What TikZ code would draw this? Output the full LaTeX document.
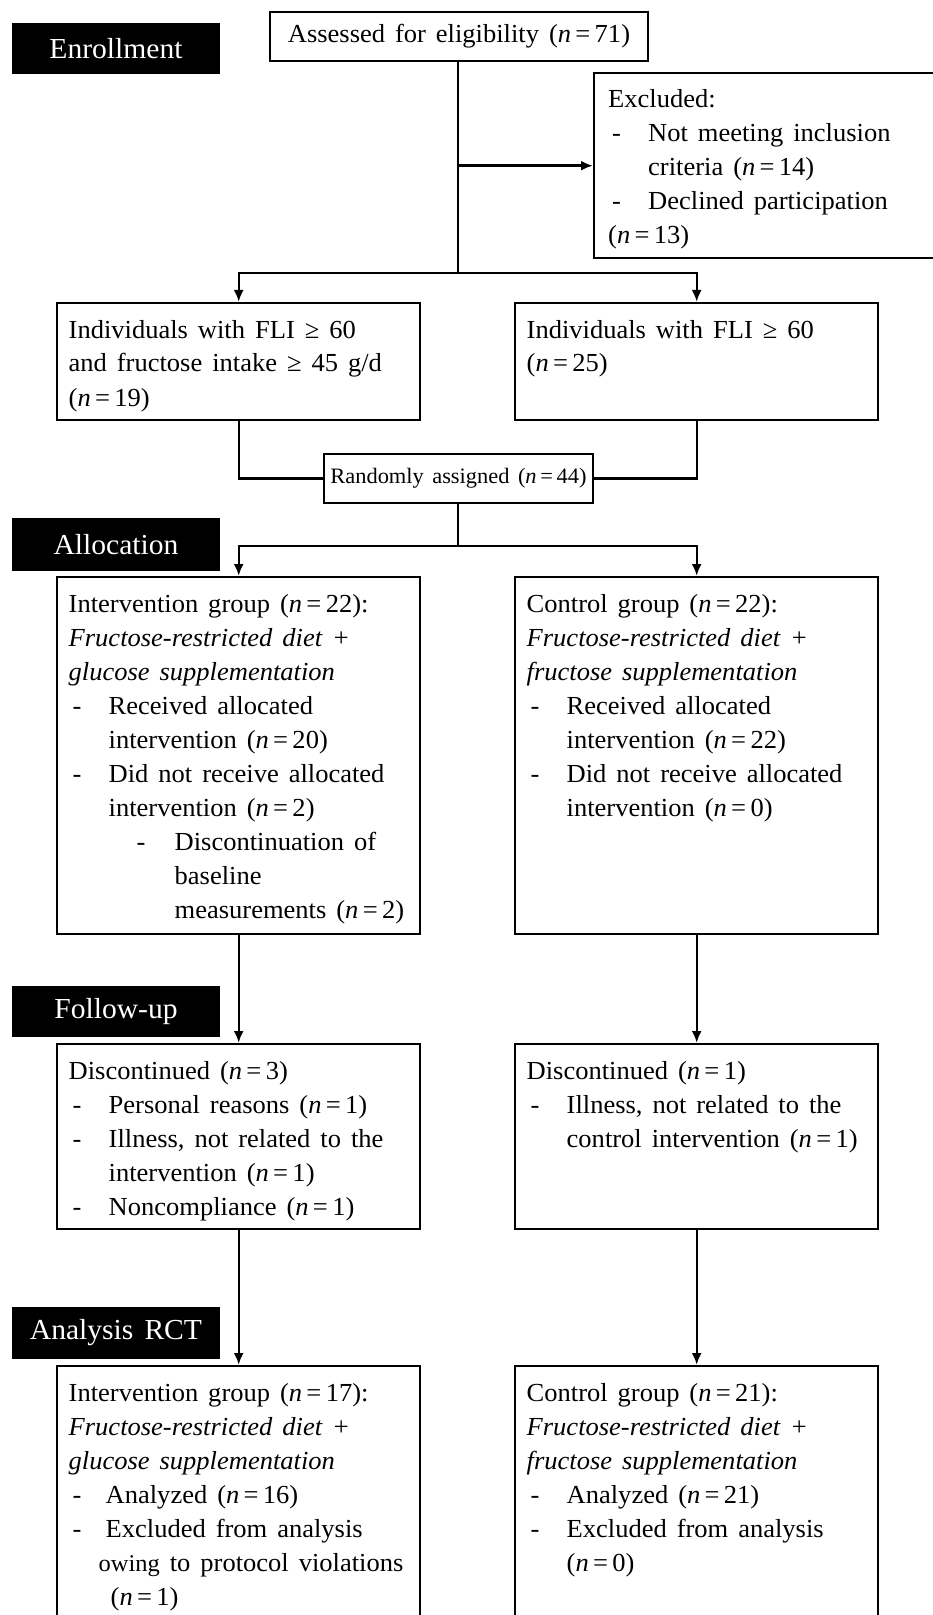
\documentclass[tikz,border=0pt]{standalone}
\usepackage{fontspec}
\setmainfont{Liberation Serif}[FakeStretch=1.02, WordSpace=1.5]
\usetikzlibrary{arrows.meta}

\newlength{\boxysep}
\setlength{\boxysep}{5.5pt}
\newcommand{\boxtext}[3][170pt]{\parbox[t][\dimexpr#2-2\boxysep\relax][t]{#1}{\raggedright\strut#3}}
\newcommand{\nval}[1]{(\textit{n}\,=\,#1)}
\newcommand{\dashitem}[1]{\mbox{\makebox[20pt][l]{\hspace{2pt}-}#1}}
\newcommand{\dashmore}[1]{\mbox{\hspace*{20pt}#1}}
\newcommand{\dashsub}[1]{\mbox{\hspace*{34pt}\makebox[19pt][l]{-}#1}}
\newcommand{\submore}[1]{\mbox{\hspace*{53pt}#1}}

\begin{document}
\begin{tikzpicture}
        [x=0.5pt,y=-0.5pt,line width=1.2pt,>={Latex[length=6pt,width=5pt]},
        every node/.style={font=\fontsize{13}{17}\selectfont},
        stage/.style={fill=black,text=white,font=\fontsize{14.5}{17}\selectfont,
            minimum width=104pt,minimum height=25.5pt,inner sep=0pt},
        flowbox/.style={draw,anchor=north west,inner xsep=5.5pt,inner ysep=\boxysep,
            minimum width=181.5pt}]
        \useasboundingbox (0,0) rectangle (932,1615);

        % stage labels
        \node[stage] (enrol) at (116, 48.5) {Enrollment};
        \node[stage, minimum height=26.5pt] (alloc) at (116, 544.5) {Allocation};
        \node[stage] (follow) at (116, 1011.5) {Follow-up};
        \node[stage, minimum height=26pt] (analysis) at (116, 1333) {Analysis RCT};

        % enrollment
        \node[draw, minimum width=189pt, minimum height=24.5pt] (assess) at (459, 36.5)
            {Assessed for eligibility \nval{71}};
        \node[flowbox, inner xsep=7pt, minimum width=180pt] (excl) at (593, 72)
            {\boxtext[166pt]{92.5pt}{Excluded:\\
            \dashitem{Not meeting inclusion}\\
            \dashmore{criteria \nval{14}}\\
            \dashitem{Declined participation}\\
            \nval{13}}};

        \node[flowbox] (fliL) at (56, 302)
            {\boxtext{58.5pt}{Individuals with FLI ≥ 60\\
            and fructose intake ≥ 45 g/d\\
            \nval{19}}};
        \node[flowbox] (fliR) at (514, 302)
            {\boxtext{58.5pt}{Individuals with FLI ≥ 60\\
            \nval{25}}};

        \node[draw, minimum width=134.5pt, minimum height=24.5pt, inner sep=1pt,
            font=\fontsize{11}{13}\selectfont] (rand) at (458.5, 478.5)
            {Randomly assigned \nval{44}};

        % allocation
        \node[flowbox] (grpL) at (56, 576)
            {\boxtext{178.5pt}{Intervention group \nval{22}:\\
            \textit{Fructose-restricted diet +}\\
            \textit{glucose supplementation}\\
            \dashitem{Received allocated}\\
            \dashmore{intervention \nval{20}}\\
            \dashitem{Did not receive allocated}\\
            \dashmore{intervention \nval{2}}\\
            \dashsub{Discontinuation of}\\
            \submore{baseline}\\
            \submore{measurements \nval{2}}}};
        \node[flowbox] (grpR) at (514, 576)
            {\boxtext{178.5pt}{Control group \nval{22}:\\
            \textit{Fructose-restricted diet +}\\
            \textit{fructose supplementation}\\
            \dashitem{Received allocated}\\
            \dashmore{intervention \nval{22}}\\
            \dashitem{Did not receive allocated}\\
            \dashmore{intervention \nval{0}}}};

        % follow-up
        \node[flowbox] (fupL) at (56, 1043)
            {\boxtext{92.5pt}{Discontinued \nval{3}\\
            \dashitem{Personal reasons \nval{1}}\\
            \dashitem{Illness, not related to the}\\
            \dashmore{intervention \nval{1}}\\
            \dashitem{Noncompliance \nval{1}}}};
        \node[flowbox] (fupR) at (514, 1043)
            {\boxtext{92.5pt}{Discontinued \nval{1}\\
            \dashitem{Illness, not related to the}\\
            \dashmore{control intervention \nval{1}}}};

        % analysis
        \node[flowbox] (anaL) at (56, 1365)
            {\boxtext{135pt}{Intervention group \nval{17}:\\
            \textit{Fructose-restricted diet +}\\
            \textit{glucose supplementation}\\
            \dashitem{\hspace{-1.5pt}Analyzed \nval{16}}\\
            \dashitem{\hspace{-1.5pt}Excluded from analysis}\\
            \mbox{\hspace*{15pt}{\fontsize{12}{17}\selectfont owing} to protocol violations}\\
            \mbox{\hspace*{21pt}\nval{1}}}};
        \node[flowbox] (anaR) at (514, 1365)
            {\boxtext{135pt}{Control group \nval{21}:\\
            \textit{Fructose-restricted diet +}\\
            \textit{fructose supplementation}\\
            \dashitem{Analyzed \nval{21}}\\
            \dashitem{Excluded from analysis}\\
            \dashmore{\nval{0}}}};

        % connectors
        \coordinate (split) at (458, 273);
        \coordinate (rsplit) at (458, 546);
        \draw (assess.south -| split) -- (split);
        \draw[->] (split |- excl.west) -- (excl.west);
        \draw[->] (split) -| (fliL.north);
        \draw[->] (split) -| (fliR.north);
        \draw (fliL.south) |- (rand.west);
        \draw (fliR.south) |- (rand.east);
        \draw (rand.south -| rsplit) -- (rsplit);
        \draw[->] (rsplit) -| (grpL.north);
        \draw[->] (rsplit) -| (grpR.north);

        \foreach \from/\to in {grpL/fupL, grpR/fupR, fupL/anaL, fupR/anaR}
            \draw[->] (\from) -- (\to);

      \end{tikzpicture}
\end{document}
